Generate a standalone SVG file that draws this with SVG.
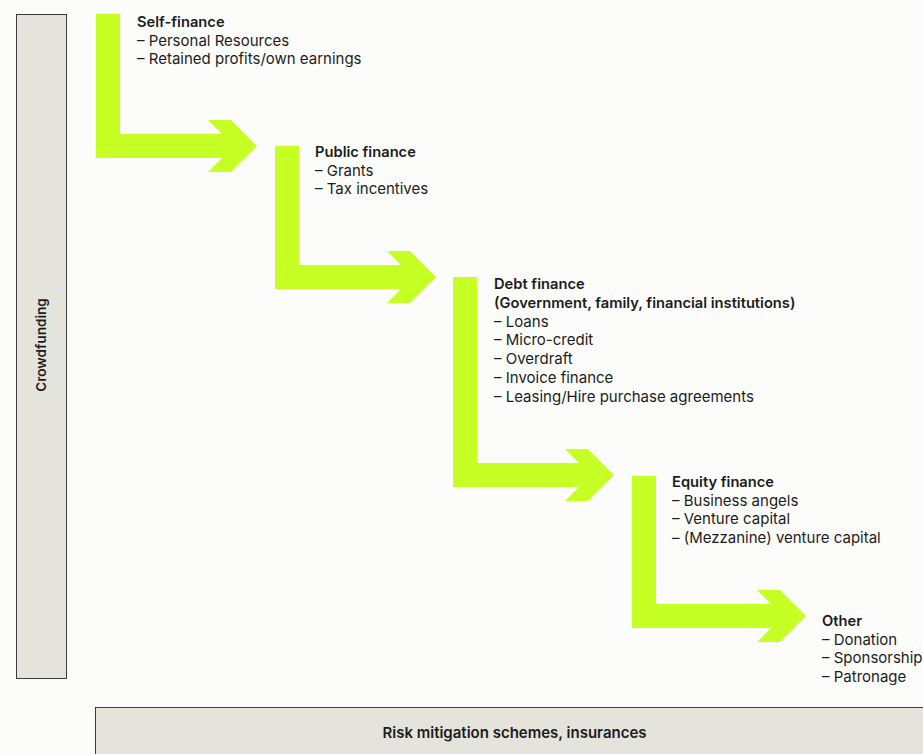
<svg xmlns="http://www.w3.org/2000/svg" width="923" height="754" viewBox="0 0 923 754">
<style>
text{font-family:Inter,"Noto Sans","Liberation Sans",sans-serif;fill:#1c1c1c;font-size:15px}
.t{font-weight:600;font-size:14.7px}
.arrow{fill:#c6ff24}
.panel{fill:#e4e3dc;stroke:#3a3a3a;stroke-width:1}
</style>
<rect x="0" y="0" width="923" height="754" fill="#fcfcfa"/>
<g id="crowdfunding">
<rect class="panel" x="16.5" y="14.5" width="50" height="664"/>
<text class="t" transform="translate(46,345) rotate(-90)" text-anchor="middle" style="font-size:13.6px">Crowdfunding</text>
</g>
<g id="risk">
<rect class="panel" x="95.5" y="707.5" width="840" height="60"/>
<text class="t" x="514.5" y="737.5" text-anchor="middle" style="font-size:15px">Risk mitigation schemes, insurances</text>
</g>
<g id="connectors">
<path class="arrow" d="M96 14H120V134H222L208 120H231L257 146L231 172H208L222 158H96Z"/>
<path class="arrow" d="M275 146H299V265H401L387 251H410L436 277L410 303H387L401 289H275Z"/>
<path class="arrow" d="M453 277H477V463H579L565 449H588L614 475L588 501H565L579 487H453Z"/>
<path class="arrow" d="M632 476H656V604H771L757 590H780L806 616L780 642H757L771 628H632Z"/>
</g>
<g id="self-finance">
<text class="t" x="137" y="27">Self-finance</text>
<text x="137" y="45.5">– Personal Resources</text>
<text x="137" y="64">– Retained profits/own earnings</text>
</g>
<g id="public-finance">
<text class="t" x="315" y="157">Public finance</text>
<text x="315" y="175.5">– Grants</text>
<text x="315" y="194">– Tax incentives</text>
</g>
<g id="debt-finance">
<text class="t" x="494" y="289">Debt finance</text>
<text class="t" x="494" y="308">(Government, family, financial institutions)</text>
<text x="494" y="326.5">– Loans</text>
<text x="494" y="345">– Micro-credit</text>
<text x="494" y="364">– Overdraft</text>
<text x="494" y="382.5">– Invoice finance</text>
<text x="494" y="401.5">– Leasing/Hire purchase agreements</text>
</g>
<g id="equity-finance">
<text class="t" x="672" y="487">Equity finance</text>
<text x="672" y="505.5">– Business angels</text>
<text x="672" y="524">– Venture capital</text>
<text x="672" y="543">– (Mezzanine) venture capital</text>
</g>
<g id="other">
<text class="t" x="822" y="626">Other</text>
<text x="822" y="644.5">– Donation</text>
<text x="822" y="663">– Sponsorship</text>
<text x="822" y="682">– Patronage</text>
</g>
</svg>
